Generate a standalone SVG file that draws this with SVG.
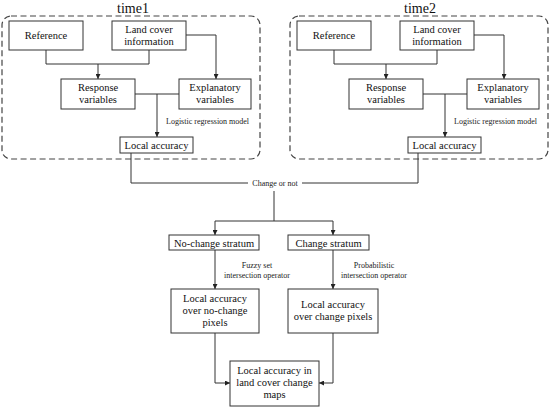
<svg xmlns="http://www.w3.org/2000/svg" width="550" height="408" viewBox="0 0 550 408">
<defs>
<marker id="ah" viewBox="0 0 10 10" refX="10" refY="5" markerWidth="5" markerHeight="5" orient="auto" markerUnits="userSpaceOnUse">
<path d="M0,0 L10,5 L0,10 Z" fill="#222"/>
</marker>
<style>
.box{fill:#fff;stroke:#333;stroke-width:1}
.frame{fill:none;stroke:#444;stroke-width:1.2;stroke-dasharray:6,3.5}
.t{font-family:"Liberation Serif","Times New Roman",serif;font-size:10.5px;fill:#111;text-anchor:middle}
.s{font-family:"Liberation Serif","Times New Roman",serif;font-size:8px;fill:#222}
.h{font-family:"Liberation Serif","Times New Roman",serif;font-size:14px;fill:#111;text-anchor:middle}
.c{fill:none;stroke:#333;stroke-width:1}
.a{fill:none;stroke:#333;stroke-width:1;marker-end:url(#ah)}
</style>
</defs>
<rect width="550" height="408" fill="#fff"/>

<g id="panel-time1">
<rect class="frame" x="2" y="16" width="258" height="143" rx="9"/>
<text class="h" x="133" y="13">time1</text>
</g>
<g id="panel-time2">
<rect class="frame" x="290" y="16" width="258" height="143" rx="9"/>
<text class="h" x="420" y="13">time2</text>
</g>

<g id="connectors">
<!-- time1 -->
<polyline class="c" points="46,50 46,64 149,64 149,50"/>
<line class="a" x1="98" y1="64" x2="98" y2="79"/>
<polyline class="a" points="186,35 216,35 216,79"/>
<line class="c" x1="135" y1="94" x2="179" y2="94"/>
<line class="a" x1="157" y1="94" x2="157" y2="137"/>
<!-- time2 -->
<polyline class="c" points="334,50 334,64 437,64 437,50"/>
<line class="a" x1="386" y1="64" x2="386" y2="79"/>
<polyline class="a" points="474,35 504,35 504,79"/>
<line class="c" x1="423" y1="94" x2="467" y2="94"/>
<line class="a" x1="445" y1="94" x2="445" y2="137"/>
<!-- merge -->
<polyline class="c" points="131,153 131,183 248,183"/>
<polyline class="c" points="302,183 418,183 418,153"/>
<line class="c" x1="274" y1="191" x2="274" y2="221"/>
<polyline class="a" points="215,221 215,221 215,235"/>
<line class="c" x1="215" y1="221" x2="333" y2="221"/>
<line class="a" x1="333" y1="221" x2="333" y2="235"/>
<line class="a" x1="215" y1="250" x2="215" y2="289"/>
<line class="a" x1="333" y1="250" x2="333" y2="289"/>
<polyline class="a" points="215,333 215,383 230,383"/>
<polyline class="a" points="333,333 333,383 319,383"/>
</g>

<g id="ref1"><rect class="box" x="9" y="21" width="74" height="29"/><text class="t" x="46" y="39">Reference</text></g>
<g id="lc1"><rect class="box" x="112" y="21" width="74" height="29"/><text class="t" x="149" y="33">Land cover</text><text class="t" x="149" y="45">information</text></g>
<g id="resp1"><rect class="box" x="61" y="79" width="74" height="30"/><text class="t" x="98" y="91">Response</text><text class="t" x="98" y="103">variables</text></g>
<g id="expl1"><rect class="box" x="179" y="79" width="72" height="30"/><text class="t" x="215" y="91">Explanatory</text><text class="t" x="215" y="103">variables</text></g>
<g id="la1"><rect class="box" x="120" y="137" width="73" height="16"/><text class="t" x="156.5" y="149">Local accuracy</text></g>
<text class="s" x="166" y="124">Logistic regression model</text>

<g id="ref2"><rect class="box" x="297" y="21" width="74" height="29"/><text class="t" x="334" y="39">Reference</text></g>
<g id="lc2"><rect class="box" x="400" y="21" width="74" height="29"/><text class="t" x="437" y="33">Land cover</text><text class="t" x="437" y="45">information</text></g>
<g id="resp2"><rect class="box" x="349" y="79" width="74" height="30"/><text class="t" x="386" y="91">Response</text><text class="t" x="386" y="103">variables</text></g>
<g id="expl2"><rect class="box" x="467" y="79" width="72" height="30"/><text class="t" x="503" y="91">Explanatory</text><text class="t" x="503" y="103">variables</text></g>
<g id="la2"><rect class="box" x="408" y="137" width="73" height="16"/><text class="t" x="444.5" y="149">Local accuracy</text></g>
<text class="s" x="454" y="124">Logistic regression model</text>

<text class="s" x="275" y="186" text-anchor="middle">Change or not</text>

<g id="nochange"><rect class="box" x="169" y="235" width="90" height="15"/><text class="t" x="214" y="246.5">No-change stratum</text></g>
<g id="change"><rect class="box" x="288" y="235" width="81" height="15"/><text class="t" x="328.5" y="246.5">Change stratum</text></g>

<text class="s" x="257" y="268" text-anchor="middle">Fuzzy set</text>
<text class="s" x="257" y="278" text-anchor="middle">intersection operator</text>
<text class="s" x="374" y="268" text-anchor="middle">Probabilistic</text>
<text class="s" x="374" y="278" text-anchor="middle">intersection operator</text>

<g id="lanc"><rect class="box" x="171" y="289" width="88" height="44"/><text class="t" x="215" y="302">Local accuracy</text><text class="t" x="215" y="314">over no-change</text><text class="t" x="215" y="326">pixels</text></g>
<g id="lac"><rect class="box" x="288" y="289" width="90" height="44"/><text class="t" x="333" y="308">Local accuracy</text><text class="t" x="333" y="320">over change pixels</text></g>
<g id="final"><rect class="box" x="230" y="361" width="89" height="45"/><text class="t" x="274.5" y="374">Local accuracy in</text><text class="t" x="274.5" y="386">land cover change</text><text class="t" x="274.5" y="398">maps</text></g>
</svg>
